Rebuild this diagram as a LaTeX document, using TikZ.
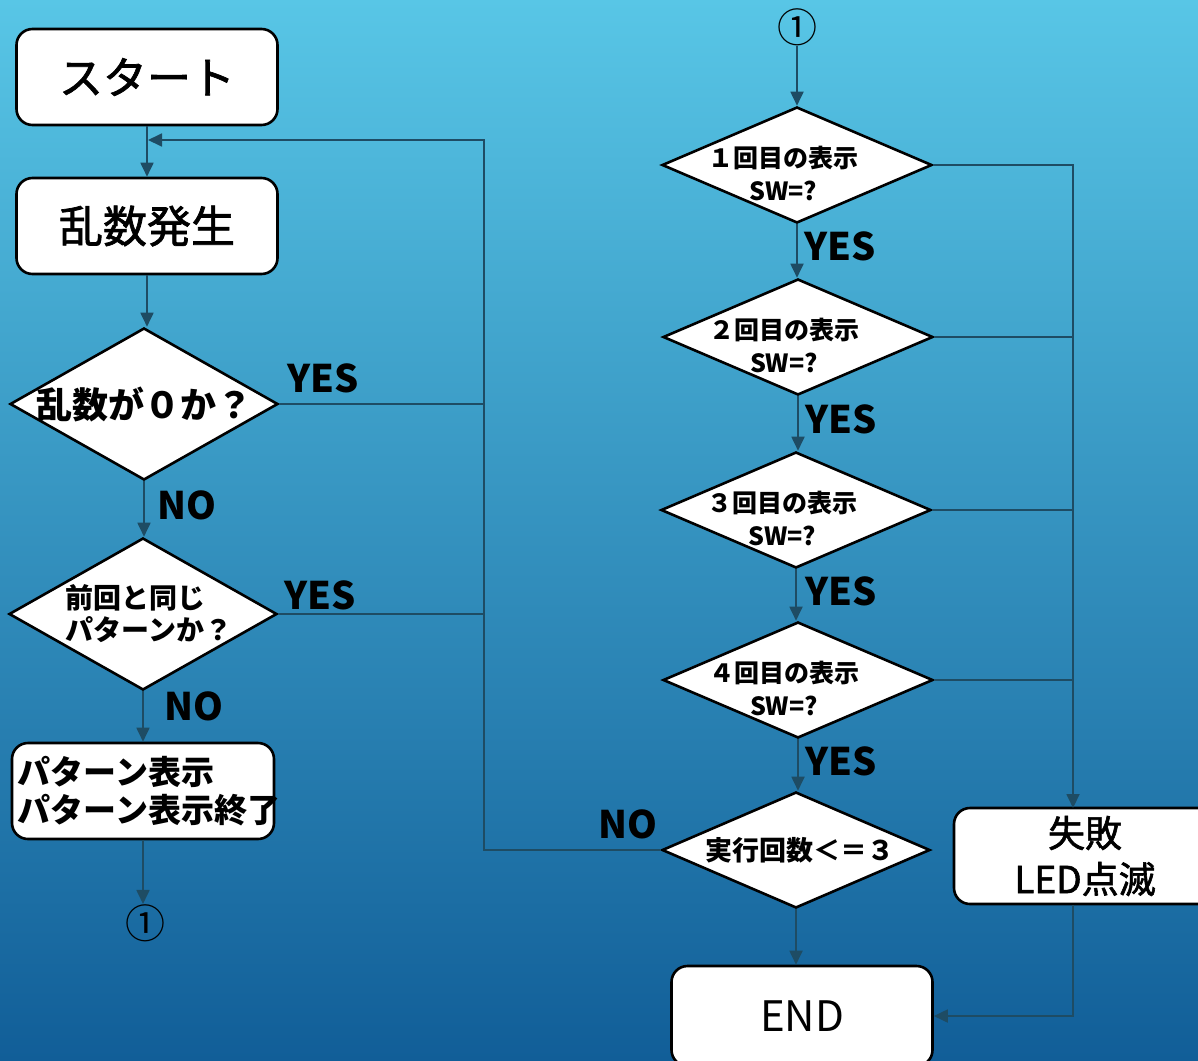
\documentclass[tikz,border=0pt]{standalone}
\usepackage{fontspec}
\setmainfont{Noto Sans CJK JP}
\newfontfamily\midfont{Noto Sans CJK JP}[RawFeature={embolden=1.6}]
\usetikzlibrary{shapes.geometric,arrows.meta}

\definecolor{bgtop}{RGB}{88,198,230}
\definecolor{bgmid}{RGB}{48,146,196}
\definecolor{bgbot}{RGB}{17,94,152}
\definecolor{flow}{RGB}{30,76,100}

\tikzset{
	box/.style={draw=black, fill=white, line width=1.3pt, rounded corners=8pt, minimum width=130.5pt, minimum height=48pt},
	decide/.style={draw=black, fill=white, line width=1.3pt, diamond, inner sep=0pt},
	line/.style={draw=flow, line width=0.9pt},
	arr/.style={line, -{Triangle[length=7pt, width=6.5pt]}},
	tag/.style={font=\bfseries\fontsize{19}{19}\selectfont},
	conn/.style={font=\fontsize{20}{20}\selectfont, inner sep=0pt},
	swtext/.style={font=\bfseries\fontsize{12.5}{16.5}\selectfont, align=center, yshift=-4pt, xshift=-7pt},
}

\begin{document}
\begin{tikzpicture}[x=0.5pt, y=-0.5pt]
	\shade[top color=bgtop, middle color=bgmid, bottom color=bgbot] (0,0) rectangle (1198,1060);
	\useasboundingbox (0,0) rectangle (1198,1060);
	\clip (0,0) rectangle (1198,1060);

	\node[box, font=\midfont\fontsize{22}{22}\selectfont] (start) at (147,77) {スタート};
	\node[box, font=\midfont\fontsize{22}{22}\selectfont] (rand) at (147,226) {乱数発生};
	\node[decide, minimum width=134pt, minimum height=76pt,
		label={[font=\bfseries\fontsize{18}{18}\selectfont]center:乱数が０か？}] (zero) at (144,404) {};
	\node[decide, minimum width=134pt, minimum height=76pt,
		label={[font=\bfseries\fontsize{14}{16}\selectfont, align=left, xshift=3pt]center:前回と同じ\\パターンか？}] (same) at (143,614) {};
	\node[box, minimum width=131pt, text width=125pt, inner xsep=3pt, align=left,
		font=\bfseries\fontsize{16.5}{19}\selectfont] (show) at (143,791) {パターン表示\\パターン表示終了};
	\node[conn] (jumpa) at (145,923) {①};

	\node[conn] (jumpb) at (797,27) {①};
	\node[decide, minimum width=135pt, minimum height=58pt,
		label={[swtext]center:１回目の表示\\SW=?}] (sw1) at (797,165) {};
	\node[decide, minimum width=135pt, minimum height=58pt,
		label={[swtext]center:２回目の表示\\SW=?}] (sw2) at (798,337) {};
	\node[decide, minimum width=135pt, minimum height=58pt,
		label={[swtext]center:３回目の表示\\SW=?}] (sw3) at (796,510) {};
	\node[decide, minimum width=135pt, minimum height=58pt,
		label={[swtext]center:４回目の表示\\SW=?}] (sw4) at (798,680) {};
	\node[decide, minimum width=134pt, minimum height=58pt,
		label={[font=\bfseries\fontsize{13.5}{14}\selectfont, xshift=2pt]center:実行回数＜＝３}] (count) at (796,850) {};
	\node[box, minimum width=131pt, align=center, font=\midfont\fontsize{18.5}{23}\selectfont] (fail) at (1085,856) {失敗\\LED点滅};
	\node[box, minimum height=50pt, font=\fontsize{21}{21}\selectfont] (end) at (802,1016) {END};

	\node[tag] (yesa) at (323,378) {YES};
	\node[tag] (yesb) at (320,595) {YES};
	\node[tag] (noa) at (187,505) {NO};
	\node[tag] (nob) at (194,706) {NO};
	\node[tag] (yes1) at (840,246) {YES};
	\node[tag] (yes2) at (841,419) {YES};
	\node[tag] (yes3) at (841,591) {YES};
	\node[tag] (yes4) at (841,761) {YES};
	\node[tag] (noc) at (628,824) {NO};

	\coordinate (merge) at (148,140);
	\coordinate (back) at (484,140);
	\coordinate (failin) at (1073,808);

	\draw[arr] (start) -- (rand);
	\draw[arr] (rand.south) -- (rand.south |- zero.north);
	\draw[arr] (zero.south) -- (zero.south |- same.north);
	\draw[arr] (same.south) -- (same.south |- show.north);
	\draw[arr] (show.south) -- (show.south |- jumpa.north);
	\draw[line] (zero.east) -- (zero.east -| back);
	\draw[line] (same.east) -- (same.east -| back);
	\draw[arr] (count.west) -| (back) -- (merge);

	\draw[arr] (jumpb) -- (sw1);
	\draw[arr] (sw1.south) -- (sw1.south |- sw2.north);
	\draw[arr] (sw2.south) -- (sw2.south |- sw3.north);
	\draw[arr] (sw3.south) -- (sw3.south |- sw4.north);
	\draw[arr] (sw4.south) -- (sw4.south |- count.north);
	\draw[arr] (count.south) -- (count.south |- end.north);
	\draw[arr] (sw1.east) -| (failin);
	\draw[line] (sw2.east) -- (sw2.east -| failin);
	\draw[line] (sw3.east) -- (sw3.east -| failin);
	\draw[line] (sw4.east) -- (sw4.east -| failin);
	\draw[arr] (failin |- fail.south) |- (end.east);
\end{tikzpicture}
\end{document}
